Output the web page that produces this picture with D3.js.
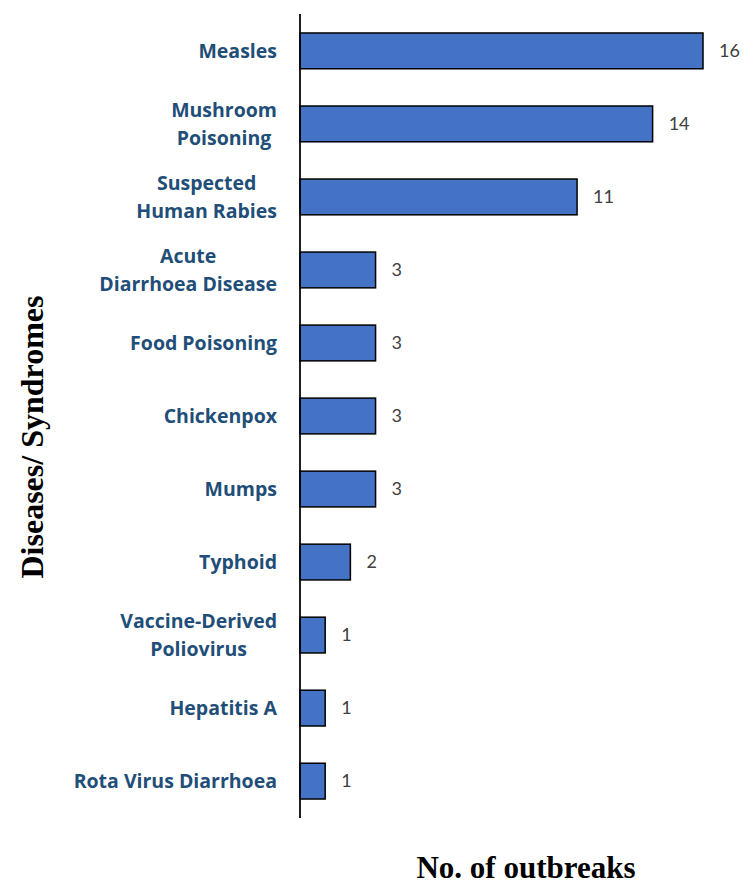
<!DOCTYPE html>
<html>
<head>
<meta charset="utf-8">
<script src="https://cdn.jsdelivr.net/npm/d3@7"></script>
<style>
  body { margin: 0; background: #fff; }
</style>
</head>
<body>
<div id="app"></div>
<script>
const WIDTH = 743
const HEIGHT = 886

// data
const diseases = [
  ['Measles'],
  ['Mushroom', 'Poisoning'],
  ['Suspected', 'Human Rabies'],
  ['Acute', 'Diarrhoea Disease'],
  ['Food Poisoning'],
  ['Chickenpox'],
  ['Mumps'],
  ['Typhoid'],
  ['Vaccine-Derived', 'Poliovirus'],
  ['Hepatitis A'],
  ['Rota Virus Diarrhoea']
]
const outbreaks = [16, 14, 11, 3, 3, 3, 3, 2, 1, 1, 1]

const data = diseases.map((lines, i) => ({ lines, key: lines.join(' '), value: outbreaks[i] }))

const margin = { left: 300, top: 14, bottom: 68 }

const x = d3.scaleLinear()
  .domain([0, 16])
  .range([margin.left, margin.left + 403])

const y = d3.scaleBand()
  .domain(data.map(d => d.key))
  .range([margin.top, HEIGHT - margin.bottom])
  .paddingInner(0.51)
  .paddingOuter(0.26)

const svg = d3.select('#app').append('svg')
  .attr('width', WIDTH)
  .attr('height', HEIGHT)

svg.append('g')
  .selectAll('rect')
  .data(data)
  .enter()
.append('rect')
  .attr('x', x(0))
  .attr('y', d => y(d.key))
  .attr('width', d => x(d.value) - x(0))
  .attr('height', y.bandwidth())
  .attr('fill', '#4472C4')
  .attr('stroke', '#000')
  .attr('stroke-width', 1.5)

// axis line
svg.append('line')
  .attr('x1', x(0)).attr('x2', x(0))
  .attr('y1', margin.top).attr('y2', HEIGHT - margin.bottom)
  .attr('stroke', '#000')
  .attr('stroke-width', 1.75)

// value labels
svg.append('g')
  .selectAll('text')
  .data(data)
  .enter()
.append('text')
  .attr('x', d => x(d.value) + 16)
  .attr('y', d => y(d.key) + y.bandwidth() / 2)
  .attr('dy', '0.35em')
  .attr('font-family', 'Lato, "Open Sans", sans-serif')
  .attr('font-size', 18)
  .attr('fill', '#404040')
  .text(d => d.value)

// category labels, multi-line ones centred on their block
const labels = svg.append('g')
  .attr('font-family', '"Open Sans", Lato, sans-serif')
  .attr('font-weight', 'bold')
  .attr('font-size', 19.5)
  .attr('fill', '#1F4E79')
  .selectAll('g')
  .data(data)
  .enter()
.append('g')

const lineH = 28
const labelRight = 277

labels.each(function (d) {
  const g = d3.select(this)
  const cy = y(d.key) + y.bandwidth() / 2
  const n = d.lines.length
  const texts = g.selectAll('text')
    .data(d.lines)
    .enter()
  .append('text')
    .attr('y', (l, i) => cy + (i - (n - 1) / 2) * lineH)
    .attr('dy', '0.35em')
    .text(l => l)
  const w = d3.max(texts.nodes(), t => t.getComputedTextLength())
  texts
    .attr('x', labelRight - w / 2)
    .attr('text-anchor', 'middle')
})

// axis titles
svg.append('text')
  .attr('transform', `translate(43, 437) rotate(-90)`)
  .attr('text-anchor', 'middle')
  .attr('font-family', '"Liberation Serif", "Times New Roman", serif')
  .attr('font-weight', 'bold')
  .attr('font-size', 32)
  .text('Diseases/ Syndromes')

svg.append('text')
  .attr('x', 526)
  .attr('y', 878)
  .attr('text-anchor', 'middle')
  .attr('font-family', '"Liberation Serif", "Times New Roman", serif')
  .attr('font-weight', 'bold')
  .attr('font-size', 31)
  .text('No. of outbreaks')
</script>
</body>
</html>
